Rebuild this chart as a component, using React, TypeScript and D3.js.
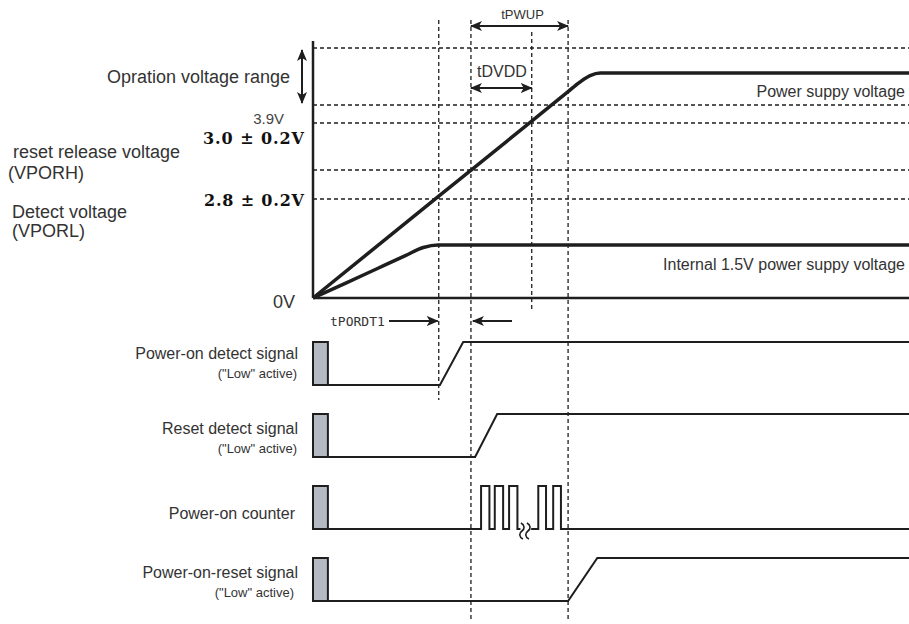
import React from 'react';
import * as d3 from 'd3';

const W = 909;
const H = 624;

// schematic time axis (arbitrary units) and voltage breakpoints
const timeDomain = [0, 100];
const voltBreaks = [0, 1.5, 2.8, 3.0, 3.9, 4.0, 5.0, 5.5];
const dashedVolts = [5.5, 4.0, 3.9, 3.0, 2.8];

// power supply voltage ramp
const supplyT = [0, 21.1, 36.7, 42.8, 44.8, 46.5, 48.2, 100];
const supplyV = [0, 2.82, 3.91, 4.42, 4.72, 4.92, 5.0, 5.0];
// internal 1.5V supply
const internalT = [0, 5.5, 11, 15.5, 18.5, 21, 100];
const internalV = [0, 0.42, 0.85, 1.2, 1.43, 1.5, 1.5];

// timing markers: detect, reset release, tDVDD end, tPWUP end
const markerTimes = [21.1, 26.5, 36.7, 42.8];

// digital signals
const signalNames = ['detect', 'reset', 'counter', 'por'];
const signalLabels = ['Power-on detect signal', 'Reset detect signal', 'Power-on counter', 'Power-on-reset signal'];
const signalSubLabels = ['("Low" active)', '("Low" active)', '', '("Low" active)'];
const unknownEnd = 2.5;
const detectT = [2.5, 21.3, 25.2, 100];
const detectL = [0, 0, 1, 1];
const resetT = [2.5, 27.2, 30.9, 100];
const resetL = [0, 0, 1, 1];
const porT = [2.5, 42.8, 47.7, 100];
const porL = [0, 0, 1, 1];
const counterEdgesA = [28.2, 29.6, 30.5, 31.9, 32.9, 34.3];
const counterEdgesB = [37.8, 39.1, 40.3, 41.6];
const counterBreak = [34.8, 36.6];

const x = d3.scaleLinear().domain(timeDomain).range([313, 909]);
const yV = d3.scaleLinear().domain(voltBreaks).range([298, 245, 199, 170, 123, 105, 73, 48]);
const rowY = d3.scalePoint().domain(signalNames).range([342, 558]);
const AMP = 43;

const INK = '#1e1e1e';
const TXT = '#333';
const SANS = '"Liberation Sans", Arial, sans-serif';

function zip(t: number[], v: number[]): [number, number][] {
  return t.map((d, i) => [d, v[i]]);
}

const analogLine = d3
  .line<[number, number]>()
  .x((d) => x(d[0]))
  .y((d) => yV(d[1]))
  .curve(d3.curveMonotoneX);

function digitalPath(name: string, t: number[], l: number[]) {
  const top = rowY(name)!;
  const line = d3
    .line<[number, number]>()
    .x((d) => x(d[0]))
    .y((d) => top + (1 - d[1]) * AMP);
  return line(zip(t, l))!;
}

function pulsePath(name: string, start: number, edges: number[], end: number) {
  const top = rowY(name)!;
  const low = top + AMP;
  const p = d3.path();
  p.moveTo(x(start), low);
  let lvl = 0;
  edges.forEach((e) => {
    p.lineTo(x(e), lvl ? top : low);
    lvl = 1 - lvl;
    p.lineTo(x(e), lvl ? top : low);
  });
  p.lineTo(x(end), low);
  return p.toString();
}

function squiggle(cx: number, yc: number) {
  const p = d3.path();
  p.moveTo(cx - 1, yc - 7);
  p.bezierCurveTo(cx + 3, yc - 5, cx + 3, yc - 1, cx, yc + 1);
  p.bezierCurveTo(cx - 3, yc + 3, cx - 3, yc + 7, cx + 1, yc + 9);
  return p.toString();
}

const vExtents: [number, number][] = [
  [20, 400],
  [20, 620],
  [32, 312],
  [20, 620],
];

export default function App() {
  const dash = '4 3';
  return (
    <svg
      width={W}
      height={H}
      viewBox={`0 0 ${W} ${H}`}
      style={{ position: 'absolute', left: 0, top: 0, background: '#fff' }}
    >
      <defs>
        <marker id="ah" viewBox="0 0 12 10" refX="11" refY="5" markerWidth="12" markerHeight="10" markerUnits="userSpaceOnUse" orient="auto-start-reverse">
          <path d="M0,0 L12,5 L0,10 L3,5 Z" fill={INK} />
        </marker>
      </defs>

      {/* horizontal dashed level lines */}
      {dashedVolts.map((v) => (
        <line key={'h' + v} x1={x(0)} x2={x(100)} y1={yV(v)} y2={yV(v)} stroke={INK} strokeWidth={1.3} strokeDasharray={dash} />
      ))}
      {/* vertical dashed timing markers */}
      {markerTimes.map((t, i) => (
        <line key={'v' + t} x1={x(t)} x2={x(t)} y1={vExtents[i][0]} y2={vExtents[i][1]} stroke={INK} strokeWidth={1.3} strokeDasharray={dash} />
      ))}

      {/* axes */}
      <line x1={x(0)} x2={x(0)} y1={41} y2={yV(0)} stroke={INK} strokeWidth={2.5} />
      <line x1={x(0)} x2={x(100)} y1={yV(0)} y2={yV(0)} stroke={INK} strokeWidth={2.5} />

      {/* analog curves */}
      <path d={analogLine(zip(supplyT, supplyV))!} fill="none" stroke={INK} strokeWidth={3.5} />
      <path d={analogLine(zip(internalT, internalV))!} fill="none" stroke={INK} strokeWidth={3.5} />

      {/* operation voltage range arrow */}
      <line x1={302} x2={302} y1={yV(5.5) + 2} y2={yV(4.0) - 2} stroke={INK} strokeWidth={2} markerStart="url(#ah)" markerEnd="url(#ah)" />

      {/* tPWUP, tDVDD arrows */}
      <line x1={x(markerTimes[1])} x2={x(markerTimes[3])} y1={26} y2={26} stroke={INK} strokeWidth={2} markerStart="url(#ah)" markerEnd="url(#ah)" />
      <text x={(x(markerTimes[1]) + x(markerTimes[3])) / 2 + 3} y={14} dy="0.35em" textAnchor="middle" fontFamily={SANS} fontSize={13} fill={TXT}>tPWUP</text>
      <line x1={x(markerTimes[1])} x2={x(markerTimes[2])} y1={88} y2={88} stroke={INK} strokeWidth={2} markerStart="url(#ah)" markerEnd="url(#ah)" />
      <text x={502} y={71} dy="0.35em" textAnchor="middle" fontFamily={SANS} fontSize={16} fill={TXT}>tDVDD</text>

      {/* tPORDT1 */}
      <text x={330} y={321} dy="0.35em" fontFamily='"DejaVu Sans Mono", monospace' fontSize={13} fill={TXT}>tPORDT1</text>
      <line x1={389} x2={x(markerTimes[0]) - 1} y1={321} y2={321} stroke={INK} strokeWidth={2} markerEnd="url(#ah)" />
      <line x1={512} x2={x(markerTimes[1]) + 2} y1={321} y2={321} stroke={INK} strokeWidth={2} markerEnd="url(#ah)" />

      {/* curve labels */}
      <text x={905} y={91} dy="0.35em" textAnchor="end" fontFamily={SANS} fontSize={16} fill={TXT}>Power suppy voltage</text>
      <text x={905} y={264} dy="0.35em" textAnchor="end" fontFamily={SANS} fontSize={16} fill={TXT}>Internal 1.5V power suppy voltage</text>

      {/* left labels */}
      <text x={290} y={77} dy="0.35em" textAnchor="end" fontFamily={SANS} fontSize={18} fill={TXT}>Opration voltage range</text>
      <text x={284} y={119} dy="0.35em" textAnchor="end" fontFamily={SANS} fontSize={15} fill="#444">3.9V</text>
      <text x={203} y={138} dy="0.35em" textLength={101} lengthAdjust="spacing" fontFamily='"DejaVu Serif", serif' fontWeight="bold" fontSize={16} fill="#111">3.0 ± 0.2V</text>
      <text x={204} y={200} dy="0.35em" textLength={100} lengthAdjust="spacing" fontFamily='"DejaVu Serif", serif' fontWeight="bold" fontSize={16} fill="#111">2.8 ± 0.2V</text>
      <text x={13} y={152} dy="0.35em" fontFamily={SANS} fontSize={18} fill={TXT}>reset release voltage</text>
      <text x={8} y={173} dy="0.35em" fontFamily={SANS} fontSize={18} fill={TXT}>(VPORH)</text>
      <text x={12} y={212} dy="0.35em" fontFamily={SANS} fontSize={18} fill={TXT}>Detect voltage</text>
      <text x={12} y={231} dy="0.35em" fontFamily={SANS} fontSize={18} fill={TXT}>(VPORL)</text>
      <text x={295} y={302} dy="0.35em" textAnchor="end" fontFamily={SANS} fontSize={18} fill={TXT}>0V</text>

      {/* digital signal rows */}
      {signalNames.map((n, i) => {
        const top = rowY(n)!;
        const isCounter = n === 'counter';
        return (
          <g key={n}>
            <rect x={x(0)} y={top} width={x(unknownEnd) - x(0)} height={AMP} fill="#b5b9c1" stroke={INK} strokeWidth={2} />
            <text x={isCounter ? 295 : 298} y={top + (isCounter ? 27 : i === 0 ? 11 : 14)} dy="0.35em" textAnchor="end" fontFamily={SANS} fontSize={16} fill={TXT}>{signalLabels[i]}</text>
            {signalSubLabels[i] && (
              <text x={i === 3 ? 294 : 297} y={top + (i === 0 ? 31 : 34)} dy="0.35em" textAnchor="end" fontFamily={SANS} fontSize={13} fill={TXT}>{signalSubLabels[i]}</text>
            )}
          </g>
        );
      })}
      <path d={digitalPath('detect', detectT, detectL)} fill="none" stroke={INK} strokeWidth={2} />
      <path d={digitalPath('reset', resetT, resetL)} fill="none" stroke={INK} strokeWidth={2} />
      <path d={digitalPath('por', porT, porL)} fill="none" stroke={INK} strokeWidth={2} />
      <path d={pulsePath('counter', unknownEnd, counterEdgesA, counterBreak[0])} fill="none" stroke={INK} strokeWidth={2} />
      <path d={pulsePath('counter', counterBreak[1], counterEdgesB, 100)} fill="none" stroke={INK} strokeWidth={2} />
      <path d={squiggle(x(counterBreak[0]) + 1.5, rowY('counter')! + AMP + 1)} fill="none" stroke={INK} strokeWidth={1.6} />
      <path d={squiggle(x(counterBreak[0]) + 7.5, rowY('counter')! + AMP + 1)} fill="none" stroke={INK} strokeWidth={1.6} />
    </svg>
  );
}
